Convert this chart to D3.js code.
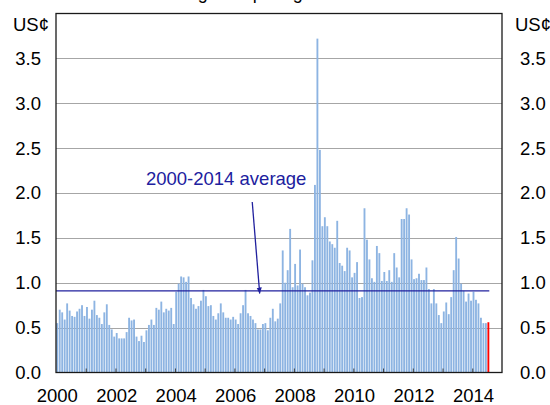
<!DOCTYPE html>
<html>
<head>
<meta charset="utf-8">
<script src="https://cdn.jsdelivr.net/npm/d3@7"></script>
<style>
  html, body { margin: 0; padding: 0; background: #fff; }
  svg { display: block; }
  text { font-family: "Liberation Sans", Arial, sans-serif; }
</style>
</head>
<body>
<svg id="chart" width="550" height="405"></svg>
<script>
// Monthly price, US cents per kg, January 2000 onwards
const startYear = 2000;
const prices = [
  // 2000
  0.55, 0.70, 0.67, 0.59, 0.77, 0.69, 0.63, 0.62, 0.68, 0.71, 0.75, 0.63,
  // 2001
  0.73, 0.60, 0.70, 0.80, 0.64, 0.61, 0.54, 0.67, 0.76, 0.53, 0.48, 0.40,
  // 2002
  0.44, 0.38, 0.38, 0.38, 0.45, 0.61, 0.58, 0.59, 0.40, 0.35, 0.41, 0.34,
  // 2003
  0.47, 0.53, 0.59, 0.53, 0.72, 0.70, 0.79, 0.67, 0.71, 0.69, 0.72, 0.54,
  // 2004
  0.90, 0.99, 1.07, 1.06, 1.01, 1.07, 0.83, 0.76, 0.71, 0.74, 0.80, 0.92,
  // 2005
  0.85, 0.74, 0.75, 0.63, 0.59, 0.66, 0.77, 0.67, 0.61, 0.61, 0.59, 0.62,
  // 2006
  0.59, 0.54, 0.66, 0.75, 0.92, 0.66, 0.63, 0.59, 0.55, 0.48, 0.48, 0.54,
  // 2007
  0.55, 0.47, 0.61, 0.71, 0.57, 0.60, 0.77, 1.36, 1.00, 1.14, 1.60, 0.95,
  // 2008
  1.21, 0.97, 1.37, 0.99, 0.95, 0.86, 0.89, 1.25, 2.09, 3.72, 2.48, 1.63,
  // 2009
  1.73, 1.63, 1.46, 1.43, 1.39, 1.69, 1.22, 1.19, 1.13, 1.39, 1.36, 1.06,
  // 2010
  1.11, 1.23, 0.83, 0.84, 1.83, 1.48, 1.26, 1.05, 1.01, 1.41, 1.33, 1.02,
  // 2011
  1.12, 1.02, 1.14, 1.01, 1.33, 1.17, 1.06, 1.71, 1.71, 1.83, 1.76, 1.26,
  // 2012
  1.04, 1.05, 1.10, 1.03, 1.03, 1.17, 0.93, 0.77, 0.93, 0.77, 0.64, 0.55,
  // 2013
  0.68, 0.78, 0.65, 0.84, 1.14, 1.51, 1.27, 0.99, 0.91, 0.79, 0.88, 0.80,
  // 2014
  0.90, 0.81, 0.77, 0.61, 0.55, 0.55, 0.56
];
const average = 0.91;              // 2000-2014 average
const yTicks = [0, 0.5, 1, 1.5, 2, 2.5, 3, 3.5];
const yearLabels = ["2000", "2002", "2004", "2006", "2008", "2010", "2012", "2014"];
const unitLabel = "US¢";
const averageLabel = "2000-2014 average";
const titleText = "Average fee per kg";
const monthsShown = 180;

const svg = d3.select("#chart");
const L = 56, R = 502, T = 13.5, B = 372.5;
const fontSize = 18.5;
const navy = "#20209e";

const x = d3.scaleBand().domain(d3.range(monthsShown)).range([L, R]).paddingInner(0.25).paddingOuter(0.125);
const xEdge = d3.scaleLinear().domain([0, monthsShown]).range([L, R]);
const y = d3.scaleLinear().domain([0, 4]).range([B, T]);

// title (sits above the frame)
svg.append("text").attr("x", 151).attr("y", -1)
  .attr("font-size", 18).attr("fill", "#000").text(titleText);

// gridlines
svg.append("g").selectAll("line").data(yTicks.filter(d => d > 0)).join("line")
  .attr("x1", L).attr("x2", R)
  .attr("y1", d => Math.round(y(d)) + 0.5).attr("y2", d => Math.round(y(d)) + 0.5)
  .attr("stroke", "#a6a6a6").attr("stroke-width", 1);

// bars
const last = prices.length - 1;
svg.append("g").selectAll("rect").data(prices).join("rect")
  .attr("x", (d, i) => x(i))
  .attr("width", x.bandwidth())
  .attr("y", d => y(d))
  .attr("height", d => B - y(d))
  .attr("fill", (d, i) => i === last ? "#ff0000" : "#8db4e2");

// average line
svg.append("line")
  .attr("x1", L).attr("x2", x(last) + x.bandwidth())
  .attr("y1", y(average)).attr("y2", y(average))
  .attr("stroke", navy).attr("stroke-width", 1.4);

// annotation arrow
svg.append("defs").append("marker")
  .attr("id", "head").attr("viewBox", "0 0 10 10").attr("refX", 9).attr("refY", 5)
  .attr("markerWidth", 5).attr("markerHeight", 5).attr("orient", "auto")
  .append("path").attr("d", "M0,1 L10,5 L0,9 Z").attr("fill", navy);
svg.append("line")
  .attr("x1", xEdge(79.2)).attr("y1", y(1.9))
  .attr("x2", xEdge(82.2)).attr("y2", y(average) + 2.5)
  .attr("stroke", navy).attr("stroke-width", 1.3)
  .attr("marker-end", "url(#head)");
svg.append("text")
  .attr("x", xEdge(36.3)).attr("y", y(2.09))
  .attr("font-size", fontSize).attr("fill", navy).text(averageLabel);

// year tick marks inside the frame
svg.append("g").attr("transform", `translate(0,${B})`)
  .call(d3.axisBottom(xEdge).tickValues(d3.range(12, monthsShown, 12)).tickSize(-4).tickFormat(""))
  .call(g => g.select(".domain").remove())
  .call(g => g.selectAll("line").attr("stroke", "#404040"));

// year labels
svg.append("g").attr("transform", `translate(0,${B})`)
  .call(d3.axisBottom(x).tickValues(yearLabels.map(s => (+s - startYear) * 12))
    .tickSize(0).tickPadding(16).tickFormat(i => yearLabels[i / 24]))
  .call(g => g.select(".domain").remove())
  .call(g => g.selectAll("text").attr("font-size", fontSize).attr("font-family", null).attr("fill", "#000"));

// value axes
svg.append("g").attr("transform", `translate(${L},0)`)
  .call(d3.axisLeft(y).tickValues(yTicks).tickSize(0).tickPadding(15).tickFormat(d3.format(".1f")))
  .call(g => g.select(".domain").remove())
  .call(g => g.selectAll("text").attr("font-size", fontSize).attr("font-family", null).attr("fill", "#000"));
svg.append("g").attr("transform", `translate(${R},0)`)
  .call(d3.axisRight(y).tickValues(yTicks).tickSize(0).tickPadding(18).tickFormat(d3.format(".1f")))
  .call(g => g.select(".domain").remove())
  .call(g => g.selectAll("text").attr("font-size", fontSize).attr("font-family", null).attr("fill", "#000"));

// unit labels
svg.append("text").attr("x", 49).attr("y", 31).attr("text-anchor", "end")
  .attr("font-size", fontSize).text(unitLabel);
svg.append("text").attr("x", 515).attr("y", 31)
  .attr("font-size", fontSize).text(unitLabel);

// frame
svg.append("rect").attr("x", L).attr("y", T).attr("width", R - L).attr("height", B - T)
  .attr("fill", "none").attr("stroke", "#1a1a1a").attr("stroke-width", 1.3);
</script>
</body>
</html>
